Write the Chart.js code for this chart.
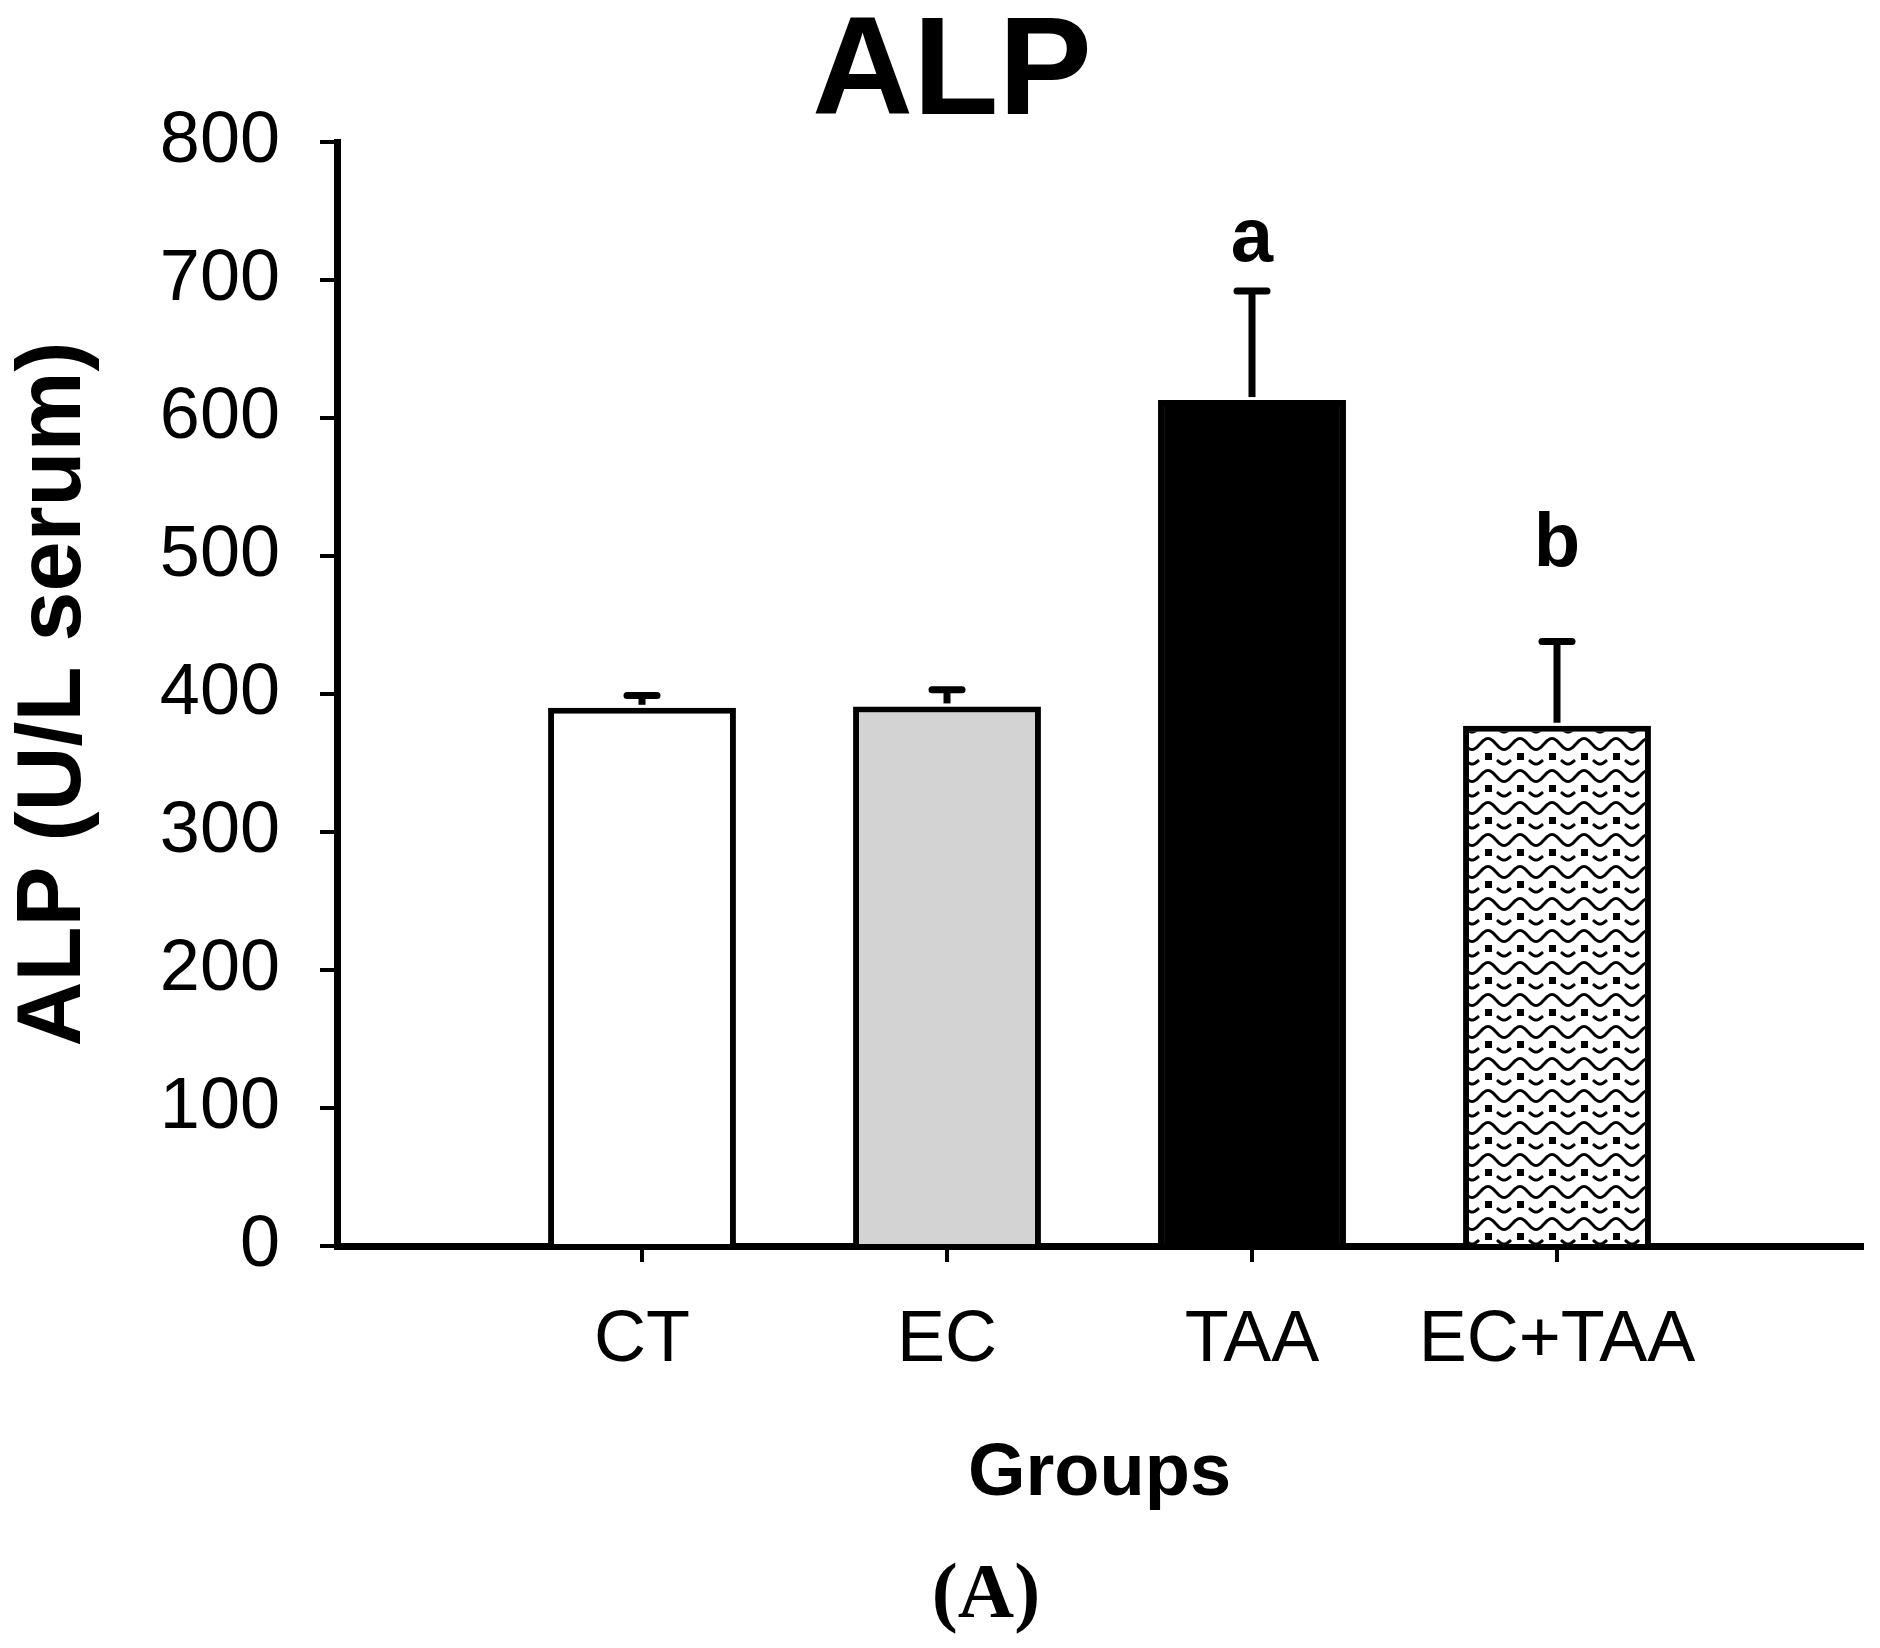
<!DOCTYPE html>
<html>
<head>
<meta charset="utf-8">
<title>ALP</title>
<script src="https://cdn.jsdelivr.net/npm/chart.js@4.4.1/dist/chart.umd.min.js"></script>
<style>
  html, body { margin: 0; padding: 0; background: #fff; }
  #wrap { width: 1880px; height: 1648px; }
</style>
</head>
<body>
<div id="wrap"><canvas id="chart-alp" width="1880" height="1648"></canvas></div>
<script>
// values (U/L serum)
var groups = ["CT", "EC", "TAA", "EC+TAA"];
var alpMeans = [390, 391, 613, 377];
var alpErrors = [9, 12, 79, 61];
var sigLetters = ["", "", "a", "b"];
var sigLevels = [null, null, 714, 493];
var yTicks = [0, 100, 200, 300, 400, 500, 600, 700, 800];

(function () {
  "use strict";

  var FONT = "'Liberation Sans', Arial, sans-serif";

  // wavy line + dot fill used by the EC+TAA bar
  function wavePattern(ctx) {
    var c = document.createElement("canvas");
    c.width = 32;
    c.height = 32;
    var g = c.getContext("2d");
    g.fillStyle = "#fff";
    g.fillRect(0, 0, 32, 32);
    g.strokeStyle = "#000";
    g.lineWidth = 3;
    g.beginPath();
    for (var x = -2; x <= 34; x++) {
      var y = 8 - 5.5 * Math.cos((2 * Math.PI * (x - 16)) / 32);
      if (x === -2) g.moveTo(x, y); else g.lineTo(x, y);
    }
    g.stroke();
    [0, 32].forEach(function (cx) {
      g.beginPath();
      for (var dx = -7; dx <= 7; dx++) {
        var yy = 24 + 4 * Math.cos((Math.PI * dx) / 14);
        if (dx === -7) g.moveTo(cx + dx, yy); else g.lineTo(cx + dx, yy);
      }
      g.stroke();
    });
    g.fillStyle = "#000";
    g.fillRect(13, 17, 7, 7);
    return ctx.createPattern(c, "repeat");
  }

  var errorBars = {
    id: "errorBars",
    afterDatasetsDraw: function (chart) {
      var meta = chart.getDatasetMeta(0);
      var ys = chart.scales.y;
      var ctx = chart.ctx;
      ctx.save();
      ctx.strokeStyle = "#000";
      ctx.lineWidth = 7;
      alpMeans.forEach(function (m, i) {
        var bar = meta.data[i + 1];
        var top = ys.getPixelForValue(m + alpErrors[i]);
        ctx.lineCap = "butt";
        ctx.beginPath();
        ctx.moveTo(bar.x, ys.getPixelForValue(m) - 3);
        ctx.lineTo(bar.x, top);
        ctx.stroke();
        ctx.lineCap = "round";
        ctx.beginPath();
        ctx.moveTo(bar.x - 15, top);
        ctx.lineTo(bar.x + 15, top);
        ctx.stroke();
      });
      ctx.restore();
    }
  };

  var annotations = {
    id: "annotations",
    afterDraw: function (chart) {
      var meta = chart.getDatasetMeta(0);
      var ys = chart.scales.y;
      var ctx = chart.ctx;
      ctx.save();
      ctx.fillStyle = "#000";
      ctx.textAlign = "center";
      ctx.textBaseline = "alphabetic";
      ctx.font = "bold 76px " + FONT;
      sigLetters.forEach(function (s, i) {
        if (!s) return;
        ctx.fillText(s, meta.data[i + 1].x, ys.getPixelForValue(sigLevels[i]));
      });
      ctx.font = "bold 78px 'Liberation Serif', 'Times New Roman', serif";
      ctx.fillText("(A)", 986, 1617);
      ctx.restore();
    }
  };

  function boot() {
    var canvas = document.getElementById("chart-alp");
    if (!canvas || typeof Chart === "undefined") return;
    var ctx = canvas.getContext("2d");
    Chart.defaults.color = "#000";
    Chart.defaults.font.family = FONT;

    var fills = ["#ffffff", "#d3d3d3", "#000000", wavePattern(ctx)];
    var lastIndex = groups.length + 1;

    new Chart(ctx, {
      type: "bar",
      data: {
        labels: [""].concat(groups, [""]),
        datasets: [
          {
            label: "ALP",
            data: [null].concat(alpMeans, [null]),
            backgroundColor: function (c) { return fills[c.dataIndex - 1] || "#fff"; },
            borderColor: "#000",
            borderWidth: 6,
            barPercentage: 0.616,
            categoryPercentage: 1
          }
        ]
      },
      options: {
        responsive: false,
        animation: false,
        layout: { padding: { left: 42, right: 18, top: 0, bottom: 0 } },
        plugins: {
          legend: { display: false },
          tooltip: { enabled: false },
          title: {
            display: true,
            text: "ALP",
            color: "#000",
            font: { size: 140, weight: "bold", lineHeight: 0.9 },
            padding: { top: 12, bottom: 4 }
          }
        },
        scales: {
          x: {
            offset: false,
            grid: {
              offset: false,
              drawOnChartArea: false,
              tickLength: 16,
              lineWidth: 4,
              color: function (c) {
                return c.index === 0 || c.index === lastIndex ? "rgba(0,0,0,0)" : "#000";
              }
            },
            border: { color: "#000", width: 7 },
            ticks: { color: "#000", font: { size: 72 }, padding: 36, autoSkip: false, maxRotation: 0 },
            title: {
              display: true,
              text: "Groups",
              color: "#000",
              font: { size: 74, weight: "bold", lineHeight: 1 },
              padding: { top: 0, bottom: 136 }
            },
            afterFit: function (scale) {
              scale.height = 402;
              scale.paddingLeft = 0;
              scale.paddingRight = 0;
            }
          },
          y: {
            min: 0,
            max: 800,
            afterBuildTicks: function (scale) {
              scale.ticks = yTicks.map(function (v) { return { value: v }; });
            },
            grid: { drawOnChartArea: false, tickLength: 17, lineWidth: 4, color: "#000" },
            border: { color: "#000", width: 7 },
            ticks: { color: "#000", font: { size: 72 }, padding: 40 },
            title: {
              display: true,
              text: "ALP (U/L serum)",
              color: "#000",
              font: { size: 90, weight: "bold", lineHeight: 1 },
              padding: { top: -32, bottom: 0 }
            },
            afterFit: function (scale) { scale.width = 295; }
          }
        }
      },
      plugins: [errorBars, annotations]
    });
  }

  if (document.readyState === "loading") {
    document.addEventListener("DOMContentLoaded", boot);
  } else {
    boot();
  }
})();
</script>
</body>
</html>
